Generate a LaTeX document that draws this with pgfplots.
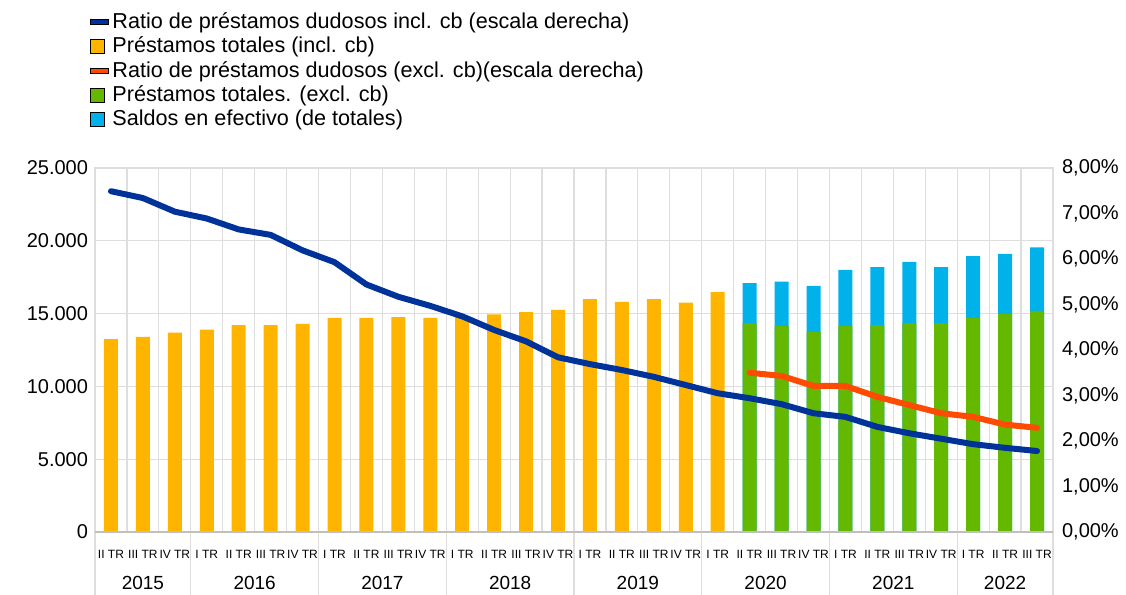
\documentclass[border=0pt]{standalone}
\usepackage{fontspec}
\setmainfont{Liberation Sans}
\usepackage{pgfplots}
\pgfplotsset{compat=1.18}

\definecolor{ecbblue}{RGB}{0,51,153}
\definecolor{ecbyellow}{RGB}{255,180,0}
\definecolor{ecborange}{RGB}{255,75,0}
\definecolor{ecbgreen}{RGB}{101,184,0}
\definecolor{ecbcyan}{RGB}{0,177,234}
\definecolor{gridgray}{RGB}{222,222,222}

\pgfplotsset{
  sqlegend/.style={legend image code/.code={\fill[##1] (0pt,-3.6pt) rectangle (7.2pt,3.6pt);}},
  dashlegend/.style={legend image code/.code={\fill[##1] (0pt,-1.3pt) rectangle (9pt,1.3pt);}},
}

\begin{document}
\begin{tikzpicture}
\useasboundingbox (-47.5pt,-31.5pt) rectangle (515.5pt,266pt);
% left axis: loans (bars)
\begin{axis}[
  at={(0,0)}, anchor=south west,
  scale only axis, width=479pt, height=182pt,
  xmin=0.5, xmax=30.5, ymin=0, ymax=25000,
  ytick={0,5000,...,25000},
  scaled y ticks=false,
  xtick={1,...,30},
  xticklabels={II TR,III TR,IV TR,
    I TR,II TR,III TR,IV TR, I TR,II TR,III TR,IV TR, I TR,II TR,III TR,IV TR,
    I TR,II TR,III TR,IV TR, I TR,II TR,III TR,IV TR, I TR,II TR,III TR,IV TR,
    I TR,II TR,III TR},
  minor xtick={1.5,2.5,...,29.5},
  xminorgrids, ymajorgrids,
  grid style={draw=gridgray, line width=0.6pt},
  minor grid style={draw=gridgray, line width=0.6pt},
  axis line style={draw=gridgray, line width=0.6pt},
  major tick length=0pt, minor tick length=0pt,
  yticklabel style={font=\fontsize{10}{12}\selectfont},
  xticklabel style={font=\fontsize{6}{7}\selectfont, yshift=-5.5pt},
  /pgf/number format/1000 sep={.},
  /pgf/number format/assume math mode=true,
  clip=false,
]
\addplot[ybar, bar width=7pt, bar shift=0pt, fill=ecbyellow, draw=none] coordinates {
  (1,13250) (2,13400) (3,13700) (4,13900) (5,14200) (6,14200) (7,14300)
  (8,14700) (9,14700) (10,14750) (11,14700) (12,14850) (13,14950) (14,15100)
  (15,15250) (16,16000) (17,15800) (18,16000) (19,15750) (20,16480)};
% totals incl. cash balances
\addplot[ybar, bar width=7pt, bar shift=0pt, fill=ecbcyan, draw=none] coordinates {
  (21,17100) (22,17200) (23,16900) (24,18000) (25,18200)
  (26,18550) (27,18200) (28,18950) (29,19100) (30,19550)};
\addplot[ybar, bar width=7pt, bar shift=0pt, fill=ecbgreen, draw=none] coordinates {
  (21,14350) (22,14150) (23,13750) (24,14150) (25,14200)
  (26,14350) (27,14350) (28,14700) (29,14970) (30,15180)};
\pgfplotsinvokeforeach{0.5,3.5,7.5,11.5,15.5,19.5,23.5,27.5,30.5}{
  \draw[gridgray, line width=0.6pt] (axis cs:#1,0) -- ++(0pt,-32pt);
}
\draw[black!25, line width=0.7pt] (axis cs:0.5,0) -- (axis cs:30.5,0);
\begin{scope}[every node/.style={font=\fontsize{9.5}{11}\selectfont}]
\node[yshift=-25.5pt] at (axis cs:2,0) {2015};
\node[yshift=-25.5pt] at (axis cs:5.5,0) {2016};
\node[yshift=-25.5pt] at (axis cs:9.5,0) {2017};
\node[yshift=-25.5pt] at (axis cs:13.5,0) {2018};
\node[yshift=-25.5pt] at (axis cs:17.5,0) {2019};
\node[yshift=-25.5pt] at (axis cs:21.5,0) {2020};
\node[yshift=-25.5pt] at (axis cs:25.5,0) {2021};
\node[yshift=-25.5pt] at (axis cs:29,0) {2022};
\end{scope}
\end{axis}
% right axis: NPL ratios
\begin{axis}[
  at={(0,0)}, anchor=south west,
  scale only axis, width=479pt, height=182pt,
  xmin=0.5, xmax=30.5, ymin=0, ymax=8,
  axis x line=none, axis y line*=right,
  axis line style={draw=none},
  ytick={0,...,8},
  major tick length=0pt,
  /pgf/number format/assume math mode=true,
  yticklabel={\pgfmathprintnumber[fixed,fixed zerofill,precision=2,use comma]{\tick}\%},
  yticklabel style={font=\fontsize{10}{12}\selectfont, xshift=1pt},
  legend style={at={(-0.006,1.44)}, anchor=north west, draw=none, fill=none,
    font=\fontsize{10.8}{12}\selectfont, row sep=-1.2pt, inner sep=0pt},
  legend cell align=left,
]
\addlegendimage{dashlegend, fill=ecbblue}
\addlegendentry{Ratio de préstamos dudosos incl. cb (escala derecha)}
\addlegendimage{sqlegend, fill=ecbyellow}
\addlegendentry{Préstamos totales (incl. cb)}
\addlegendimage{dashlegend, fill=ecborange}
\addlegendentry{Ratio de préstamos dudosos (excl. cb)(escala derecha)}
\addlegendimage{sqlegend, fill=ecbgreen}
\addlegendentry{Préstamos totales. (excl. cb)}
\addlegendimage{sqlegend, fill=ecbcyan}
\addlegendentry{Saldos en efectivo (de totales)}
\addplot[forget plot, ecbblue, line width=3pt, line join=round, line cap=round] coordinates {
  (1,7.49) (2,7.34) (3,7.04) (4,6.89) (5,6.65) (6,6.53) (7,6.19) (8,5.93)
  (9,5.44) (10,5.17) (11,4.97) (12,4.74) (13,4.44) (14,4.19) (15,3.84)
  (16,3.69) (17,3.56) (18,3.41) (19,3.23) (20,3.05) (21,2.94) (22,2.81)
  (23,2.61) (24,2.53) (25,2.31) (26,2.17) (27,2.05) (28,1.93) (29,1.85) (30,1.78)};
\addplot[forget plot, ecborange, line width=3pt, line join=round, line cap=round] coordinates {
  (21,3.50) (22,3.43) (23,3.21) (24,3.21) (25,2.97) (26,2.79) (27,2.61)
  (28,2.53) (29,2.36) (30,2.29)};
\end{axis}
\end{tikzpicture}
\end{document}
